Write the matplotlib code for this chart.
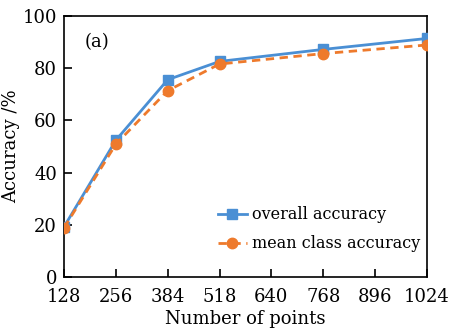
import matplotlib
matplotlib.use("Agg")
import matplotlib.pyplot as plt

tick_labels = ["128", "256", "384", "518", "640", "768", "896", "1024"]
points = ["128", "256", "384", "518", "768", "1024"]
overall = [19.2, 52.4, 75.6, 82.6, 87.2, 91.4]
mean_class = [18.8, 50.9, 71.4, 81.6, 85.6, 88.9]
y_ticks = [0, 20, 40, 60, 80, 100]

plt.rcParams['font.family'] = ['DejaVu Serif']
plt.rcParams['mathtext.fontset'] = 'dejavuserif'

fig = plt.figure(figsize=(4.51, 3.33), dpi=100)
ax = fig.add_axes([64/451, 1-277/333, (427-64)/451, (277-16)/333])

xpos = [tick_labels.index(p) for p in points]
ax.plot(xpos, overall, color='#4a8fd4', lw=2, marker='s', ms=6.5, label='overall accuracy', zorder=3)
ax.plot(xpos, mean_class, color='#ee7a2c', lw=2, ls=(0, (3, 2)), marker='o', ms=7.5, label='mean class accuracy', zorder=4)

ax.set_xlim(0, len(tick_labels)-1)
ax.set_ylim(0, 100)
ax.set_xticks(range(len(tick_labels)))
ax.set_xticklabels(tick_labels)
ax.set_yticks(y_ticks)
ax.tick_params(direction='in', length=6, width=1.2, labelsize=13)
ax.tick_params(axis='x', pad=8)
ax.tick_params(axis='y', pad=5)
for s in ax.spines.values():
    s.set_linewidth(1.2)
ax.set_xlabel('Number of points', fontsize=13, labelpad=3)
ax.set_ylabel('Accuracy /%', fontsize=13, labelpad=2)
ax.text(0.058, 0.9, '(a)', transform=ax.transAxes, fontsize=13, va='center')
ax.legend(loc='lower right', frameon=False, fontsize=11.5, handlelength=1.8,
          handletextpad=0.35, borderaxespad=0.0, labelspacing=0.75,
          bbox_to_anchor=(1.0, 0.07))
fig.savefig('out.png', dpi=100)
